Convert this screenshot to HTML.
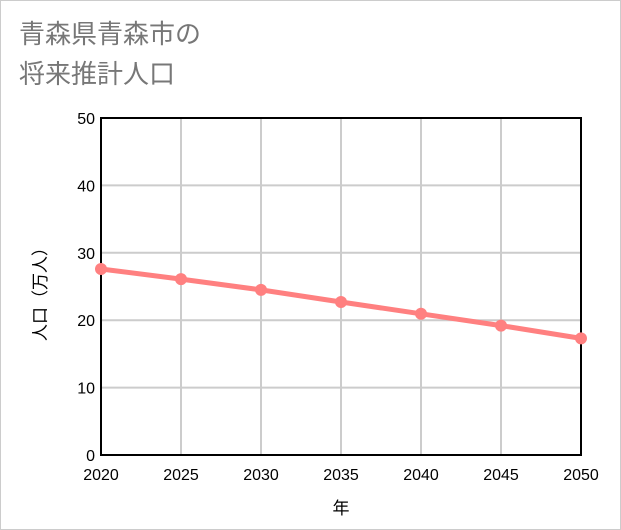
<!DOCTYPE html>
<html><head><meta charset="utf-8"><style>
body{margin:0;background:#fff;}
#wrap{position:relative;width:619px;height:528px;border:1px solid #ccc;background:#fff;font-family:"Liberation Sans","Noto Sans CJK JP",sans-serif;}
#title{position:absolute;left:18px;top:13px;font-size:26px;line-height:40px;color:#777;}
</style></head><body>
<div id="wrap">
<div id="title">青森県青森市の<br>将来推計人口</div>
<svg id="chart" width="621" height="530" style="position:absolute;left:-1px;top:-1px"></svg>
</div>
<script>
const years=[2020,2025,2030,2035,2040,2045,2050];
const population=[27.6,26.1,24.5,22.7,20.95,19.2,17.3];
const yTicks=[0,10,20,30,40,50];
const L=101,R=581,T=118,B=455;
const xs=v=>L+(v-2020)/30*(R-L);
const ys=v=>B-v/50*(B-T);
const svg=document.getElementById('chart');
const NS='http://www.w3.org/2000/svg';
function mk(t,a){const e=document.createElementNS(NS,t);for(const k in a)e.setAttribute(k,a[k]);svg.appendChild(e);return e;}
yTicks.forEach(v=>{const l=mk('line',{x1:L,x2:R,y1:ys(v),y2:ys(v),stroke:'#ccc','stroke-width':2});


const t=mk('text',{x:L-6,y:ys(v)+6,'text-anchor':'end','font-size':16,fill:'#000','font-family':'Liberation Sans, sans-serif'});t.textContent=v;

});
years.forEach(v=>{const l=mk('line',{x1:xs(v),x2:xs(v),y1:T,y2:B,stroke:'#ccc','stroke-width':2});


const t=mk('text',{x:xs(v),y:B+25,'text-anchor':'middle','font-size':16,fill:'#000','font-family':'Liberation Sans, sans-serif'});t.textContent=v;

});
const frame=mk('rect',{x:L,y:T,width:R-L,height:B-T,fill:'none',stroke:'#000','stroke-width':2});


const line=mk('polyline',{points:years.map((y,i)=>xs(y)+','+ys(population[i])).join(' '),fill:'none',stroke:'#ff8080','stroke-width':5});


years.forEach((y,i)=>{const c=mk('circle',{cx:xs(y),cy:ys(population[i]),r:6,fill:'#ff8080'});

});
const xt=mk('text',{x:341,y:514,'text-anchor':'middle','font-size':17,fill:'#000','font-family':'Liberation Sans, Noto Sans CJK JP, sans-serif'});xt.textContent='年';


const yt=mk('text',{x:0,y:0,'text-anchor':'middle','font-size':17,fill:'#000','font-family':'Liberation Sans, Noto Sans CJK JP, sans-serif',transform:'translate(46,290) rotate(-90)'});yt.textContent='人口（万人）';


</script>
</body></html>
